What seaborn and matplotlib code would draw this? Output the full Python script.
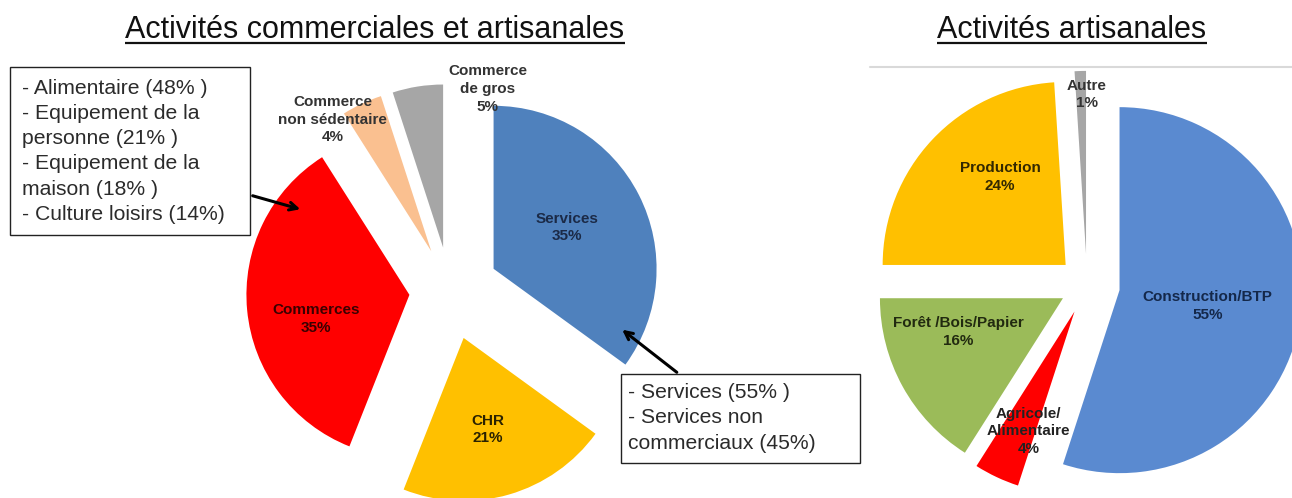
import matplotlib
matplotlib.use("Agg")
import matplotlib.pyplot as plt
import seaborn as sns
from matplotlib.patches import Rectangle

sns.set_theme(style="white")
plt.rcParams['font.family'] = ['Liberation Sans', 'DejaVu Sans']

# ---------------- data ----------------
left_title = "Activités commerciales et artisanales"
left_labels = ["Services", "CHR", "Commerces", "Commerce\nnon sédentaire", "Commerce\nde gros"]
left_values = [35, 21, 35, 4, 5]
left_colors = ["#4F81BD", "#FFC000", "#FF0000", "#FAC090", "#A6A6A6"]
left_text_colors = ["#1B2A47", "#2A2200", "#3A0000", "#333333", "#333333"]

right_title = "Activités artisanales"
right_labels = ["Construction/BTP", "Agricole/\nAlimentaire", "Forêt /Bois/Papier", "Production", "Autre"]
right_values = [55, 4, 16, 24, 1]
right_colors = ["#5A8AD0", "#FF0000", "#9BBB59", "#FFC000", "#A6A6A6"]
right_text_colors = ["#14284A", "#222222", "#222A10", "#332800", "#333333"]

commerces_detail = ["- Alimentaire (48% )", "- Equipement de la", "personne (21% )",
                    "- Equipement de la", "maison (18% )", "- Culture loisirs (14%)"]
services_detail = ["- Services (55% )", "- Services non", "commerciaux (45%)"]

# ---------------- layout ----------------
W, H = 1292, 498
fig = plt.figure(figsize=(W / 100, H / 100), dpi=100)
fig.patch.set_facecolor("white")

def pix_axes(x0, x1, cx, cy, r):
    ax = fig.add_axes([x0 / W, 0, (x1 - x0) / W, 1])
    return ax, (-(cx - x0) / r, (x1 - cx) / r, -(H - cy) / r, cy / r)

LABEL_FS = 11
LABEL_LS = 1.33

# left pie
axL, limL = pix_axes(0, 860, 450, 291, 163)
left_explode = [0.30, 0.30, 0.25, 0.27, 0.27]
axL.pie(left_values, explode=left_explode, colors=left_colors, startangle=90,
        counterclock=False, radius=1, wedgeprops=dict(linewidth=0))
axL.set_xlim(limL[0], limL[1]); axL.set_ylim(limL[2], limL[3])
axL.set_aspect("auto"); axL.axis("off")
left_text_pos = [(0.72, 0.39), (0.23, -0.85), (-0.82, -0.17), (-0.72, 1.05), (0.23, 1.24)]
for lab, val, col, (tx, ty) in zip(left_labels, left_values, left_text_colors, left_text_pos):
    axL.text(tx, ty, f"{lab}\n{val}%", ha="center", va="center", fontsize=LABEL_FS,
             fontweight="bold", color=col, linespacing=LABEL_LS)

# right pie
axR, limR = pix_axes(860, 1292, 1087, 285, 183)
right_explode = [0.18, 0.16, 0.15, 0.16, 0.17]
axR.pie(right_values, explode=right_explode, colors=right_colors, startangle=90,
        counterclock=False, radius=1, wedgeprops=dict(linewidth=0))
axR.set_xlim(limR[0], limR[1]); axR.set_ylim(limR[2], limR[3])
axR.set_aspect("auto"); axR.axis("off")
right_text_pos = [(0.66, -0.115), (-0.32, -0.80), (-0.705, -0.257), (-0.475, 0.59), (0.0, 1.04)]
for lab, val, col, (tx, ty) in zip(right_labels, right_values, right_text_colors, right_text_pos):
    axR.text(tx, ty, f"{lab}\n{val}%", ha="center", va="center", fontsize=LABEL_FS,
             fontweight="bold", color=col, linespacing=LABEL_LS)

# overlay in pixel coordinates
ov = fig.add_axes([0, 0, 1, 1], zorder=5)
ov.set_xlim(0, W); ov.set_ylim(H, 0); ov.axis("off"); ov.patch.set_alpha(0)

# titles with underline
fig.canvas.draw()
renderer = fig.canvas.get_renderer()
for title, cx in [(left_title, 375), (right_title, 1072)]:
    t = ov.text(cx, 38, title, ha="center", va="baseline", fontsize=22, color="#111111")
    bb = t.get_window_extent(renderer)
    ov.plot([bb.x0, bb.x1], [42.5, 42.5], color="#111111", lw=1.6, solid_capstyle="butt")

# light frame line on the right chart
ov.plot([870, 1292], [67, 67], color="#D9D9D9", lw=1.5)

BOX_FS = 15.2
# left annotation box
ov.add_patch(Rectangle((10, 67), 240, 168, fill=True, fc="white", ec="#222222", lw=1.0))
for i, line in enumerate(commerces_detail):
    ov.text(22, 88 + i * 25.3, line, ha="left", va="center", fontsize=BOX_FS, color="#2B2B2B")
ov.annotate("", xy=(303, 210), xytext=(250, 195),
            arrowprops=dict(arrowstyle="->", color="black", lw=2.2, mutation_scale=14))

# right annotation box
ov.add_patch(Rectangle((621, 374), 239, 89, fill=True, fc="white", ec="#222222", lw=1.0))
for i, line in enumerate(services_detail):
    ov.text(628, 392 + i * 25.5, line, ha="left", va="center", fontsize=BOX_FS, color="#2B2B2B")
ov.annotate("", xy=(620, 328), xytext=(679, 374),
            arrowprops=dict(arrowstyle="->", color="black", lw=2.2, mutation_scale=14))

fig.savefig("out.png", dpi=100, facecolor="white")
